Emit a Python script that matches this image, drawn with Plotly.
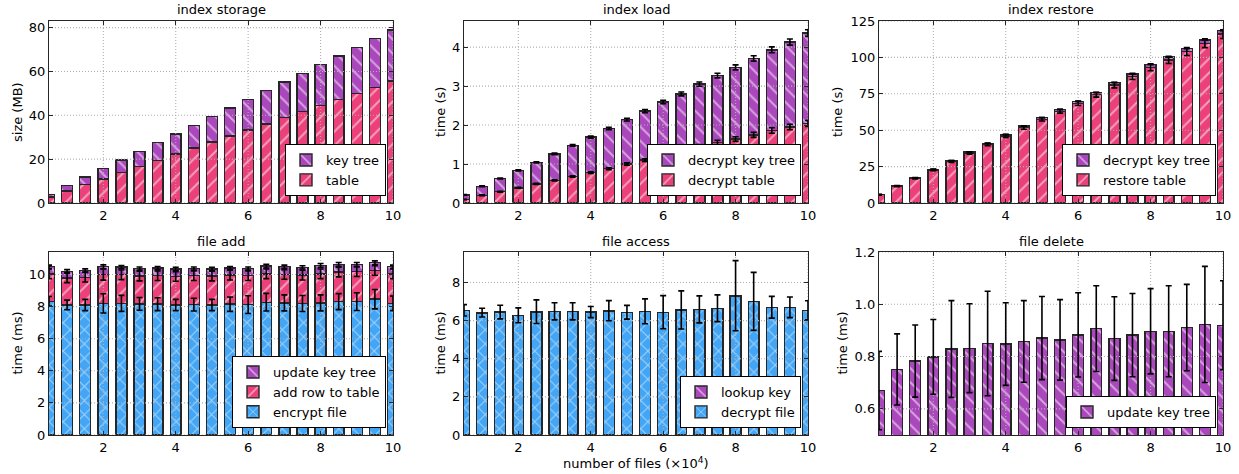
import numpy as np
import plotly.graph_objects as go

# ---------------- data ----------------
files = [0.5, 1.0, 1.5, 2.0, 2.5, 3.0, 3.5, 4.0, 4.5, 5.0,
         5.5, 6.0, 6.5, 7.0, 7.5, 8.0, 8.5, 9.0, 9.5, 10.0]
x_ticks = [2, 4, 6, 8, 10]
x_range = [0.5, 10]

# index storage (MB)
storage_table = [2.7, 5.5, 8.4, 11.0, 13.8, 16.7, 19.4, 22.3, 25.1, 27.9,
                 30.6, 33.3, 36.1, 38.9, 41.7, 44.4, 47.3, 50.0, 52.8, 55.6]
storage_keytree = [1.2, 2.4, 3.4, 4.8, 5.9, 6.9, 8.1, 9.2, 10.3, 11.5,
                   12.7, 14.0, 15.1, 16.3, 17.4, 18.7, 19.7, 21.0, 22.1, 23.3]

# index load (s)
load_table = [0.09, 0.2, 0.29, 0.39, 0.49, 0.58, 0.68, 0.78, 0.88, 1.0,
              1.1, 1.22, 1.34, 1.44, 1.55, 1.64, 1.75, 1.86, 1.95, 2.04]
load_table_err = [0.005, 0.01, 0.01, 0.01, 0.015, 0.015, 0.02, 0.02, 0.025, 0.03,
                  0.035, 0.04, 0.045, 0.06, 0.06, 0.06, 0.065, 0.07, 0.07, 0.075]
load_keytree = [0.12, 0.23, 0.34, 0.45, 0.55, 0.68, 0.80, 0.91, 1.03, 1.14,
                1.26, 1.37, 1.46, 1.61, 1.72, 1.84, 1.96, 2.07, 2.18, 2.32]
load_keytree_err = [0.01, 0.01, 0.01, 0.015, 0.015, 0.02, 0.02, 0.025, 0.03, 0.035,
                    0.04, 0.045, 0.05, 0.055, 0.06, 0.065, 0.07, 0.075, 0.08, 0.085]

# index restore (s)
restore_table = [5.7, 11.6, 17.0, 22.7, 28.5, 34.4, 40.2, 46.1, 51.8, 57.5,
                 63.0, 68.5, 74.4, 81.0, 86.9, 93.2, 98.3, 104.0, 109.7, 116.0]
restore_table_err = [0.3, 0.4, 0.5, 0.6, 0.7, 0.8, 0.9, 1.0, 1.1, 1.2,
                     1.3, 1.5, 1.7, 1.9, 2.1, 2.4, 2.5, 2.7, 3.0, 3.0]
restore_keytree = [0.12, 0.23, 0.34, 0.45, 0.55, 0.68, 0.80, 0.91, 1.03, 1.14,
                   1.26, 1.37, 1.46, 1.61, 1.72, 1.84, 1.96, 2.07, 2.18, 2.32]
restore_keytree_err = [0.05, 0.05, 0.05, 0.05, 0.05, 0.05, 0.05, 0.05, 0.05, 0.05,
                       0.05, 0.05, 0.05, 0.05, 0.05, 0.05, 0.05, 0.05, 0.05, 0.05]

# file add (ms)
add_encrypt = [8.33, 8.1, 8.1, 8.2, 8.2, 8.17, 8.15, 8.1, 8.12, 8.1,
               8.15, 8.12, 8.27, 8.23, 8.19, 8.23, 8.31, 8.31, 8.46, 8.2]
add_encrypt_err = [0.3, 0.3, 0.35, 0.6, 0.5, 0.4, 0.4, 0.35, 0.4, 0.35,
                   0.45, 0.55, 0.55, 0.5, 0.5, 0.5, 0.5, 0.55, 0.6, 0.45]
add_row = [1.71, 1.69, 1.73, 1.8, 1.78, 1.73, 1.77, 1.78, 1.8, 1.8,
           1.81, 1.8, 1.77, 1.77, 1.77, 1.81, 1.84, 1.86, 1.79, 1.84]
add_row_err = [0.3, 0.3, 0.3, 0.35, 0.3, 0.3, 0.3, 0.3, 0.3, 0.3,
               0.3, 0.3, 0.3, 0.3, 0.3, 0.3, 0.3, 0.3, 0.3, 0.3]
add_keytree = [0.44, 0.41, 0.42, 0.48, 0.48, 0.47, 0.48, 0.47, 0.45, 0.45,
               0.44, 0.45, 0.48, 0.48, 0.48, 0.52, 0.48, 0.46, 0.48, 0.44]
add_keytree_err = [0.1, 0.1, 0.1, 0.12, 0.1, 0.1, 0.1, 0.1, 0.1, 0.1,
                   0.1, 0.1, 0.12, 0.1, 0.1, 0.12, 0.12, 0.12, 0.12, 0.1]

# file access (ms)
access_decrypt = [6.53, 6.41, 6.44, 6.27, 6.46, 6.48, 6.48, 6.44, 6.51, 6.43,
                  6.48, 6.43, 6.55, 6.58, 6.64, 7.3, 7.0, 6.69, 6.69, 6.53]
access_lookup = [0.01, 0.01, 0.01, 0.01, 0.01, 0.01, 0.01, 0.01, 0.01, 0.01,
                 0.01, 0.01, 0.01, 0.01, 0.01, 0.01, 0.01, 0.01, 0.01, 0.01]
access_err = [0.3, 0.23, 0.36, 0.39, 0.62, 0.45, 0.45, 0.29, 0.53, 0.36,
              0.65, 0.87, 1.0, 0.71, 0.7, 1.84, 1.52, 0.57, 0.54, 0.5]

# file delete (ms)
delete_keytree = [0.67, 0.751, 0.783, 0.799, 0.829, 0.832, 0.85, 0.848, 0.858, 0.871,
                  0.864, 0.883, 0.907, 0.869, 0.882, 0.897, 0.897, 0.911, 0.923, 0.92]
delete_err = [0.15, 0.136, 0.138, 0.143, 0.185, 0.17, 0.2, 0.158, 0.156, 0.159,
              0.154, 0.161, 0.164, 0.16, 0.159, 0.163, 0.174, 0.165, 0.222, 0.17]

titles = ["index storage", "index load", "index restore",
          "file add", "file access", "file delete"]
ytitles = ["size (MB)", "time (s)", "time (s)", "time (ms)", "time (ms)", "time (ms)"]
yranges = [[0, 83], [0, 4.67], [0, 125], [0, 11.4], [0, 9.6], [0.5, 1.2]]
yticks = [[0, 20, 40, 60, 80], [0, 1, 2, 3, 4], [0, 25, 50, 75, 100, 125],
          [0, 2, 4, 6, 8, 10], [0, 2, 4, 6, 8], [0.6, 0.8, 1.0, 1.2]]

PURPLE = "#AB47BC"
PINK = "#EC407A"
BLUE = "#42A5F5"

# ---------------- layout geometry (reference pixels) ----------------
W, H = 1239, 474
cols = [(49, 393), (464, 808), (879, 1223)]
rows = [(21, 203), (252, 435)]
ytitle_x = [[17, 440, 837], [17, 440, 842]]
title_y = [10, 241]


def px(v):
    return v / W


def py(v):
    return (H - v) / H


fig = go.Figure()


def ax(k):
    return ("x" if k == 1 else f"x{k}"), ("y" if k == 1 else f"y{k}")


def legname(k):
    return "legend" if k == 1 else f"legend{k}"


def add_bar(k, y, name, color, shape):
    xa, ya = ax(k)
    fig.add_trace(go.Bar(
        x=files, y=y, name=name, width=0.3, xaxis=xa, yaxis=ya,
        legend=legname(k),
        marker=dict(color=color, line=dict(color="#262626", width=1.4),
                    pattern=dict(shape=shape, fgcolor="white", bgcolor=color,
                                 size=10, solidity=0.2)),
        hoverinfo="skip"))


def add_grid(k):
    xa, ya = ax(k)
    y0, y1 = yranges[k - 1]
    gx, gy = [], []
    for xv in x_ticks:
        gx += [xv, xv, None]
        gy += [y0, y1, None]
    for yv in yticks[k - 1]:
        gx += [x_range[0], x_range[1], None]
        gy += [yv, yv, None]
    fig.add_trace(go.Scatter(
        x=gx, y=gy, mode="lines", xaxis=xa, yaxis=ya, showlegend=False,
        line=dict(color="#b0b0b0", width=1.1, dash="1px,2px"),
        hoverinfo="skip"))


def add_err(k, top, err):
    xa, ya = ax(k)
    fig.add_trace(go.Scatter(
        x=files, y=top, mode="markers", xaxis=xa, yaxis=ya, showlegend=False,
        marker=dict(size=1, color="rgba(0,0,0,0)"), cliponaxis=False,
        error_y=dict(type="data", array=err, color="black", thickness=1.6, width=3),
        hoverinfo="skip"))


# index storage
add_bar(1, storage_table, "table", PINK, "/")
add_bar(1, storage_keytree, "key tree", PURPLE, "\\")
add_grid(1)

# index load
add_bar(2, load_table, "decrypt table", PINK, "/")
add_bar(2, load_keytree, "decrypt key tree", PURPLE, "\\")
add_grid(2)
lt = np.array(load_table)
add_err(2, lt, load_table_err)
add_err(2, lt + np.array(load_keytree), load_keytree_err)

# index restore
add_bar(3, restore_table, "restore table", PINK, "/")
add_bar(3, restore_keytree, "decrypt key tree", PURPLE, "\\")
add_grid(3)
rt = np.array(restore_table)
add_err(3, rt, restore_table_err)
add_err(3, rt + np.array(restore_keytree), restore_keytree_err)

# file add
add_bar(4, add_encrypt, "encrypt file", BLUE, "x")
add_bar(4, add_row, "add row to table", PINK, "/")
add_bar(4, add_keytree, "update key tree", PURPLE, "\\")
add_grid(4)
ae = np.array(add_encrypt)
ar = ae + np.array(add_row)
add_err(4, ae, add_encrypt_err)
add_err(4, ar, add_row_err)
add_err(4, ar + np.array(add_keytree), add_keytree_err)

# file access
add_bar(5, access_decrypt, "decrypt file", BLUE, "x")
add_bar(5, access_lookup, "lookup key", PURPLE, "\\")
add_grid(5)
add_err(5, np.array(access_decrypt) + np.array(access_lookup), access_err)

# file delete
add_bar(6, delete_keytree, "update key tree", PURPLE, "\\")
add_grid(6)
add_err(6, delete_keytree, delete_err)

layout = dict(
    width=W, height=H, barmode="stack", plot_bgcolor="white", paper_bgcolor="white",
    margin=dict(l=0, r=0, t=0, b=0),
    font=dict(family="DejaVu Sans", size=13, color="black"),
)

annotations = []
for r in range(2):
    for c in range(3):
        k = r * 3 + c + 1
        xl, xr = cols[c]
        yt, yb = rows[r]
        sfx = "" if k == 1 else str(k)
        layout["xaxis" + sfx] = dict(
            domain=[px(xl), px(xr)], range=x_range, tickvals=x_ticks,
            ticks="inside", ticklen=4, tickcolor="#262626", showline=True,
            linecolor="#262626", linewidth=1.3, mirror="ticks", showgrid=False,
            zeroline=False, anchor="y" + sfx, automargin=False, layer="above traces",
            tickfont=dict(size=13), fixedrange=True)
        layout["yaxis" + sfx] = dict(
            domain=[py(yb), py(yt)], range=yranges[k - 1],
            tickvals=yticks[k - 1], tickformat=".1f" if k == 6 else None,
            ticks="inside", ticklen=4, tickcolor="#262626", showline=True,
            linecolor="#262626", linewidth=1.3, mirror="ticks", showgrid=False,
            zeroline=False, anchor="x" + sfx, automargin=False, layer="above traces",
            tickfont=dict(size=13), fixedrange=True)
        layout[legname(k)] = dict(
            x=px(xr - 7), y=py(yb - 7), xanchor="right", yanchor="bottom",
            bgcolor="white", bordercolor="black", borderwidth=1,
            font=dict(size=13), traceorder="reversed", itemwidth=30)
        annotations.append(dict(
            text=titles[k - 1], x=px((xl + xr) / 2), y=py(title_y[r]),
            xref="paper", yref="paper", showarrow=False, xanchor="center",
            yanchor="middle", font=dict(size=13)))
        annotations.append(dict(
            text=ytitles[k - 1], x=px(ytitle_x[r][c]), y=py((yt + yb) / 2),
            xref="paper", yref="paper", showarrow=False, textangle=-90,
            xanchor="center", yanchor="middle", font=dict(size=13)))

annotations.append(dict(
    text="number of files (×10<sup>4</sup>)", x=px((cols[1][0] + cols[1][1]) / 2),
    y=py(463), xref="paper", yref="paper", showarrow=False,
    xanchor="center", yanchor="middle", font=dict(size=13)))

layout["annotations"] = annotations
fig.update_layout(**layout)

# remove the browser's default 8px page margin so the figure fills the window
fig.write_html("out.html", config={"displayModeBar": False},
               post_script="document.body.style.margin='0px';document.body.style.overflow='hidden';")
